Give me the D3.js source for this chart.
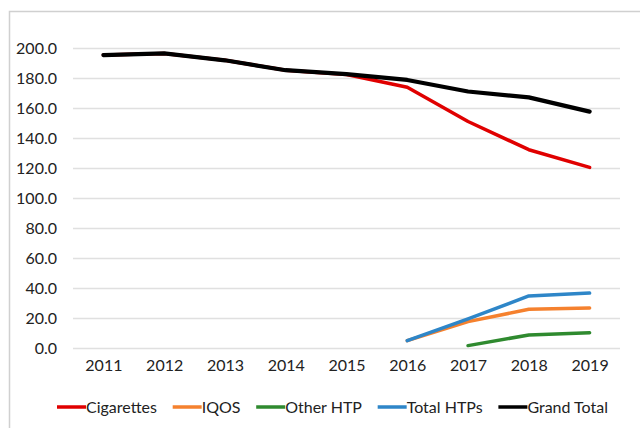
<!DOCTYPE html>
<html><head><meta charset="utf-8">
<script src="https://cdn.jsdelivr.net/npm/d3@7"></script>
<style>
html,body{margin:0;padding:0;background:#fff;}
svg{display:block;font-family:Lato,"Open Sans",sans-serif;}
</style></head>
<body>
<svg id="c" width="640" height="428"></svg>
<script>
const years = ["2011","2012","2013","2014","2015","2016","2017","2018","2019"];
const cigarettes = [195.3, 196.4, 191.8, 185.2, 182.3, 173.8, 151.0, 132.2, 120.4];
const iqos = [null, null, null, null, null, 4.9, 17.6, 25.8, 26.7];
const otherHTP = [null, null, null, null, null, null, 1.6, 8.7, 10.2];
const totalHTPs = [null, null, null, null, null, 4.9, 19.4, 34.7, 36.6];
const grandTotal = [195.3, 196.4, 191.8, 185.2, 182.6, 178.7, 171.0, 167.1, 157.6];
const yTicks = [0,20,40,60,80,100,120,140,160,180,200];
const seriesNames = ["Cigarettes","IQOS","Other HTP","Total HTPs","Grand Total"];
const seriesColors = ["#e00000","#f5812e","#2f8a2f","#2e86c8","#000000"];
const seriesWidths = [3.5,3.5,3.5,3.5,4.2];
const seriesData = [cigarettes, iqos, otherHTP, totalHTPs, grandTotal];

const svg = d3.select("#c");
svg.append("rect").attr("x",9.5).attr("y",11.5).attr("width",660).attr("height",440)
  .attr("fill","none").attr("stroke","#d0d0d0").attr("stroke-width",1.5);

const x = d3.scalePoint().domain(years).range([73,620]).padding(0.5);
const y = d3.scaleLinear().domain([0,200]).range([348,48]);

svg.append("g").selectAll("line").data(yTicks).join("line")
  .attr("x1",73).attr("x2",620)
  .attr("y1",d=>y(d)+0.5).attr("y2",d=>y(d)+0.5)
  .attr("stroke","#e0e0e0").attr("stroke-width",1.5);

const yAxis = d3.axisLeft(y).tickValues(yTicks).tickFormat(d3.format(".1f")).tickSize(0).tickPadding(0);
const ga = svg.append("g").attr("transform","translate(57,0)").call(yAxis);
ga.select(".domain").remove();
ga.selectAll("text").attr("font-size",16).attr("fill","#222").attr("font-family","Lato, sans-serif");

const xAxis = d3.axisBottom(x).tickSize(0).tickPadding(0);
const gx = svg.append("g").attr("transform","translate(0,360)").call(xAxis);
gx.select(".domain").remove();
gx.selectAll("text").attr("font-size",16).attr("fill","#222").attr("font-family","Lato, sans-serif");

const line = d3.line().defined(d=>d.v!=null).x(d=>x(d.year)).y(d=>y(d.v));
seriesData.forEach((arr,i)=>{
  const pts = years.map((yr,j)=>({year:yr,v:arr[j]}));
  svg.append("path").datum(pts).attr("d",line)
    .attr("fill","none").attr("stroke",seriesColors[i]).attr("stroke-width",seriesWidths[i])
    .attr("stroke-linejoin","round").attr("stroke-linecap","round");
});

// legend
const lg = svg.append("g").attr("transform","translate(57,407)");
const items = seriesNames.map((n,i)=>{
  const g = lg.append("g");
  g.append("line").attr("x1",0).attr("x2",29).attr("y1",0).attr("y2",0)
    .attr("stroke",seriesColors[i]).attr("stroke-width",3.5);
  const t = g.append("text").attr("x",29).attr("y",5.5).attr("font-size",16).attr("fill","#222").text(n);
  return {g, w: 29 + t.node().getComputedTextLength()};
});
const totalW = d3.sum(items, d=>d.w);
const gap = (551 - totalW) / (items.length - 1);
let cx = 0;
items.forEach(it=>{ it.g.attr("transform",`translate(${cx},0)`); cx += it.w + gap; });
</script>
</body></html>
